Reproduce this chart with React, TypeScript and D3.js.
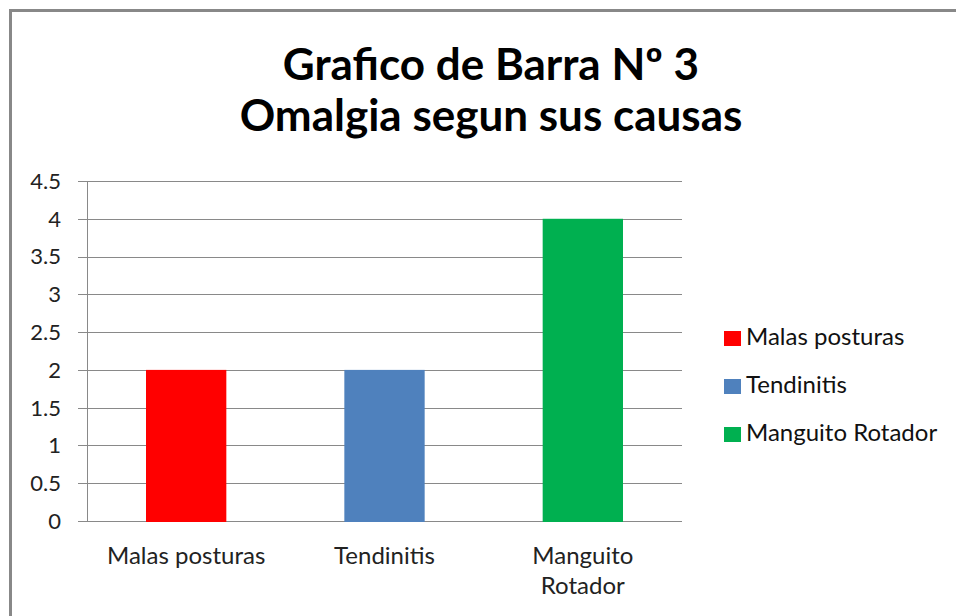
import { useEffect, useRef } from 'react';
import * as d3 from 'd3';

const categories = ['Malas posturas', 'Tendinitis', 'Manguito Rotador'];
const categoryLines = [['Malas posturas'], ['Tendinitis'], ['Manguito', 'Rotador']];
const values = [2, 2, 4];
const colors = ['#FF0000', '#4F81BD', '#00B050'];
const yTicks = [0, 0.5, 1, 1.5, 2, 2.5, 3, 3.5, 4, 4.5];
const titleLines = ['Grafico de Barra Nº 3', 'Omalgia segun sus causas'];

const W = 956;
const H = 616;
const FONT = 'Lato, "Open Sans", sans-serif';

const App = () => {
  const svgRef = useRef<SVGSVGElement | null>(null);

  useEffect(() => {
    const svg = d3.select(svgRef.current);
    svg.selectAll('*').remove();

    // chart frame (runs off the right and bottom)
    svg.append('rect')
      .attr('x', 10.5)
      .attr('y', 10.5)
      .attr('width', W)
      .attr('height', H)
      .attr('fill', '#fff')
      .attr('stroke', '#888')
      .attr('stroke-width', 3);

    const left = 87, right = 682, top = 181, bottom = 521;

    const x = d3.scaleBand().domain(categories).range([left, right]).padding(0);
    const y = d3.scaleLinear().domain([0, 4.5]).range([bottom, top]);

    const title = svg.append('text')
      .attr('text-anchor', 'middle')
      .attr('font-family', FONT)
      .attr('font-weight', 'bold')
      .attr('font-size', 44)
      .attr('fill', '#000');
    titleLines.forEach((t, i) => {
      title.append('tspan').attr('x', 491).attr('y', 80 + i * 51).text(t);
    });

    // grid lines + ticks
    svg.append('g').selectAll('line')
      .data(yTicks)
      .enter().append('line')
      .attr('x1', left - 9)
      .attr('x2', right)
      .attr('y1', d => Math.round(y(d)) + 0.5)
      .attr('y2', d => Math.round(y(d)) + 0.5)
      .attr('stroke', '#898989')
      .attr('stroke-width', 1);

    svg.append('line')
      .attr('x1', left + 0.5).attr('x2', left + 0.5)
      .attr('y1', top).attr('y2', bottom)
      .attr('stroke', '#898989');

    svg.append('g').selectAll('text')
      .data(yTicks)
      .enter().append('text')
      .attr('x', 61)
      .attr('y', d => y(d))
      .attr('dy', '0.36em')
      .attr('text-anchor', 'end')
      .attr('font-family', FONT)
      .attr('font-size', 22)
      .attr('fill', '#222')
      .text(d => String(d));

    const bw = x.bandwidth() * 0.405;
    svg.append('g').selectAll('rect')
      .data(values)
      .enter().append('rect')
      .attr('x', (d, i) => (x(categories[i]) as number) + (x.bandwidth() - bw) / 2)
      .attr('y', d => y(d))
      .attr('width', bw)
      .attr('height', d => y(0) - y(d) + 1)
      .attr('fill', (d, i) => colors[i]);

    const cat = svg.append('g');
    categoryLines.forEach((lines, i) => {
      const cx = (x(categories[i]) as number) + x.bandwidth() / 2;
      const t = cat.append('text')
        .attr('text-anchor', 'middle')
        .attr('font-family', FONT)
        .attr('font-size', 24)
        .attr('fill', '#222');
      lines.forEach((l, j) => {
        t.append('tspan').attr('x', cx).attr('y', 564 + j * 30).text(l);
      });
    });

    const legend = svg.append('g').selectAll('g')
      .data(categories)
      .enter().append('g')
      .attr('transform', (d, i) => `translate(724,${345 + i * 48})`);
    legend.append('rect')
      .attr('x', 0).attr('y', -14)
      .attr('width', 17).attr('height', 15)
      .attr('fill', (d, i) => colors[i]);
    legend.append('text')
      .attr('x', 22)
      .attr('y', 0)
      .attr('font-family', FONT)
      .attr('font-size', 24)
      .attr('fill', '#111')
      .text(d => d);
  }, []);

  return (
    <svg ref={svgRef} width={W} height={H}
      style={{ position: 'absolute', left: 0, top: 0, display: 'block' }} />
  );
};

export default App;
